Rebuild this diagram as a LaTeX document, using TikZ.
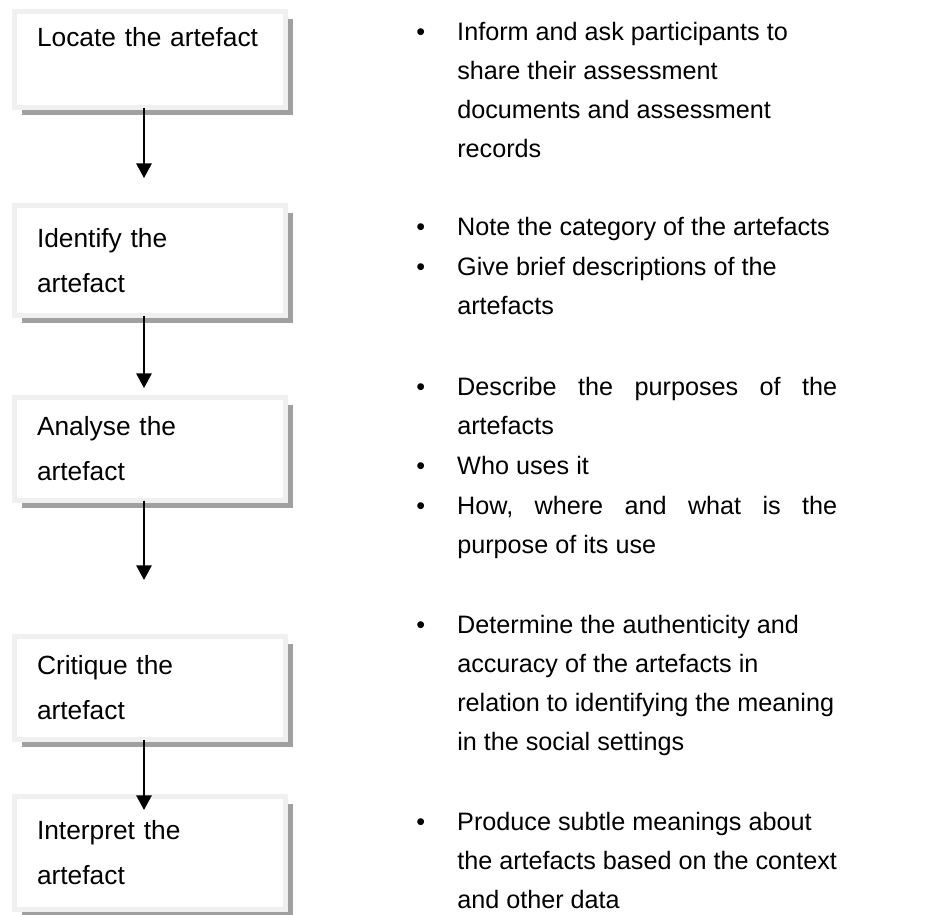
\documentclass[tikz,border=0pt]{standalone}
\usepackage{fontspec}
\setmainfont{Liberation Sans}
\usepackage{tikz}
\usetikzlibrary{shadows, arrows.meta, positioning}
\definecolor{my_band}{RGB}{240, 240, 240}
\definecolor{my_shadow}{RGB}{160, 160, 160}
\newcommand{\bpoint}[1]{\makebox[30.75pt][l]{\textbullet}\parbox[t]{300pt}{#1}}
\newcommand{\fullline}[1]{\makebox[285pt][s]{#1}}
\tikzset {
  stage/.style = {draw=my_band, line width=3.75pt, fill=white, rectangle, outer sep=0pt, minimum width=203.25pt, text width=169.5pt, inner xsep=16.875pt, inner ysep=0pt, align=left, font=\fontsize{19.75pt}{33.75pt}\selectfont, drop shadow={shadow xshift=5.25pt, shadow yshift=-5.25pt, fill=my_shadow, opacity=1}},
  notes/.style = {inner sep=0pt, anchor=base west, font=\fontsize{18.9pt}{29.25pt}\selectfont},
  line/.style = {line width=1.5pt, color=black, >={Triangle[width=11.5pt, length=11pt]}}
}

\begin{document}
\begin{tikzpicture}[x=0.75pt, y=-0.75pt]
    \useasboundingbox (0,0) rectangle (926,915);
    \node[stage, minimum height=72pt, name=locate] (locate) at (150,59.5) {Locate the artefact\\\mbox{}};
    \node[stage, minimum height=82.5pt, name=identify, below=73.5pt of locate] (identify) {Identify the\\artefact};
    \node[stage, minimum height=77.25pt, name=analyse, below=61.5pt of identify] (analyse) {Analyse the\\artefact};
    \node[stage, minimum height=77.25pt, name=critique, below=102pt of analyse] (critique) {Critique the\\artefact};
    \node[stage, minimum height=84.75pt, name=interpret, below=42.75pt of critique] (interpret) {Interpret the\\artefact};

    \node[notes, name=inform] (inform) at (416,40) {\bpoint{Inform and ask participants to\\share their assessment\\documents and assessment\\records}};
    \node[notes, name=category] (category) at (416,235) {\bpoint{Note the category of the artefacts}};
    \node[notes, name=describe] (describe) at (416,275) {\bpoint{Give brief descriptions of the\\artefacts}};
    \node[notes, name=purposes] (purposes) at (416,395) {\bpoint{\fullline{Describe\hfill the\hfill purposes\hfill of\hfill the}\\artefacts}};
    \node[notes, name=users] (users) at (416,474) {\bpoint{Who uses it}};
    \node[notes, name=use] (use) at (416,514) {\bpoint{\fullline{How,\hfill where\hfill and\hfill what\hfill is\hfill the}\\purpose of its use}};
    \node[notes, name=authenticity] (authenticity) at (416,633) {\bpoint{Determine the authenticity and\\accuracy of the artefacts in\\relation to identifying the meaning\\in the social settings}};
    \node[notes, name=meanings] (meanings) at (416,830) {\bpoint{Produce subtle meanings about\\the artefacts based on the context\\and other data}};

    \draw[line, ->, shorten >=20.6pt] ([xshift=-4.5pt]locate.south) -- ([xshift=-4.5pt]identify.north);
    \draw[line, ->, shorten >=7.1pt] ([xshift=-4.5pt]identify.south) -- ([xshift=-4.5pt]analyse.north);
    \draw[line, ->, shorten >=42.4pt] ([xshift=-4.5pt]analyse.south) -- ([xshift=-4.5pt]critique.north);
    \draw[line, ->, shorten >=-10.1pt] ([xshift=-4.5pt]critique.south) -- ([xshift=-4.5pt]interpret.north);

  \end{tikzpicture}
\end{document}
